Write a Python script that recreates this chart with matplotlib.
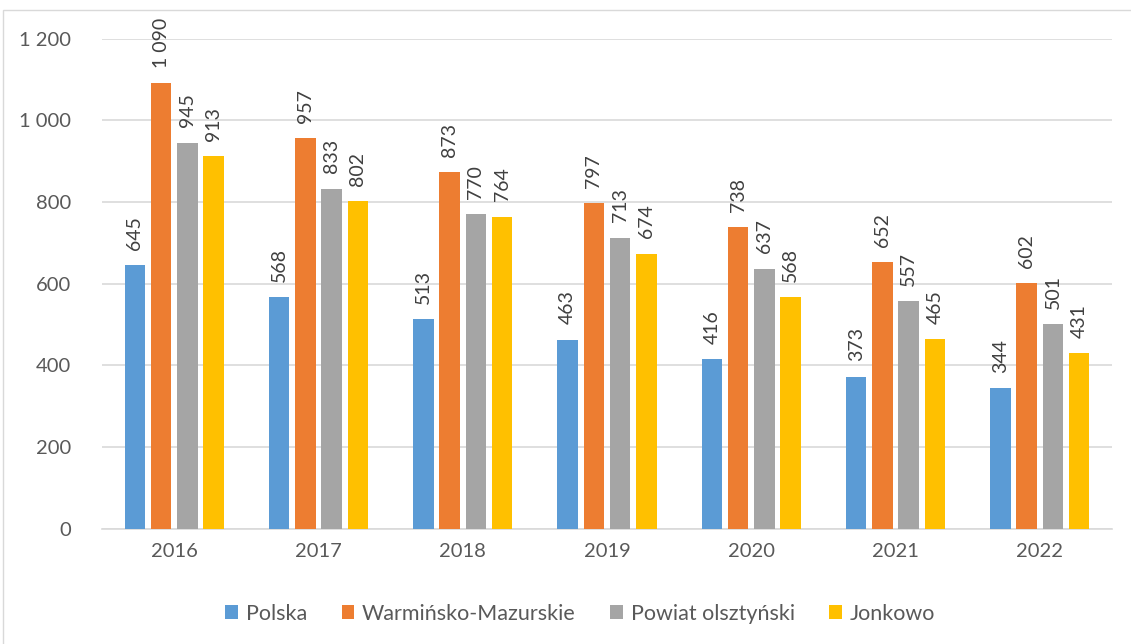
import numpy as np
import matplotlib.pyplot as plt
from matplotlib.patches import Rectangle

# Data
years = ["2016", "2017", "2018", "2019", "2020", "2021", "2022"]
polska = [645, 568, 513, 463, 416, 373, 344]
warminsko = [1090, 957, 873, 797, 738, 652, 602]
powiat = [945, 833, 770, 713, 637, 557, 501]
jonkowo = [913, 802, 764, 674, 568, 465, 431]

series_names = ["Polska", "Warmińsko-Mazurskie", "Powiat olsztyński", "Jonkowo"]
series_values = [polska, warminsko, powiat, jonkowo]
colors = ["#5B9BD5", "#ED7D31", "#A5A5A5", "#FFC000"]


def fmt(v):
    # Polish thousands separator (space)
    return f"{v:,}".replace(",", " ")


def main():
    plt.rcParams['font.family'] = ['Lato', 'DejaVu Sans']

    fig = plt.figure(figsize=(11.31, 6.44), dpi=100)
    ax = fig.add_axes([0.0902, 0.1786, 0.893, 0.7616])

    # chart area border (only left/top edges visible in reference)
    fig.patches.append(Rectangle((3 / 1131, -0.2), 1.5, 1.2 - 10 / 644,
                                 transform=fig.transFigure, fill=False,
                                 edgecolor="#D9D9D9", linewidth=1.0))

    x = np.arange(len(years))
    width = 0.142
    step = 0.182
    offsets = (np.arange(4) - 1.5) * step

    for name, vals, col, off in zip(series_names, series_values, colors, offsets):
        bars = ax.bar(x + off, vals, width, color=col, label=name, zorder=3)
        for b, v in zip(bars, vals):
            ax.annotate(fmt(v), (b.get_x() + b.get_width() / 2, b.get_height()),
                        xytext=(0, 11), textcoords="offset points",
                        rotation=90, ha="center", va="bottom",
                        fontsize=14, color="#404040")

    ax.set_xlim(-0.5, len(years) - 0.5)
    ax.set_ylim(0, 1200)
    ax.set_yticks(range(0, 1201, 200))
    ax.set_yticklabels([fmt(v) for v in range(0, 1201, 200)])
    ax.set_xticks(x)
    ax.set_xticklabels(years)
    ax.tick_params(axis="both", length=0, labelsize=14.5, colors="#595959")
    ax.tick_params(axis="y", pad=22)
    ax.tick_params(axis="x", pad=10)

    ax.grid(axis="y", color="#D9D9D9", linewidth=1.2, zorder=0)
    for s in ["top", "right", "left"]:
        ax.spines[s].set_visible(False)
    ax.spines["bottom"].set_color("#D9D9D9")
    ax.spines["bottom"].set_linewidth(1.2)

    fig.legend(loc="center", bbox_to_anchor=(0.513, 0.047), ncol=4,
               frameon=False, fontsize=15.5, labelcolor="#595959",
               handlelength=0.6, handleheight=0.6, handletextpad=0.35,
               columnspacing=1.6)

    fig.savefig("out.png", dpi=100)


if __name__ == "__main__":
    main()
